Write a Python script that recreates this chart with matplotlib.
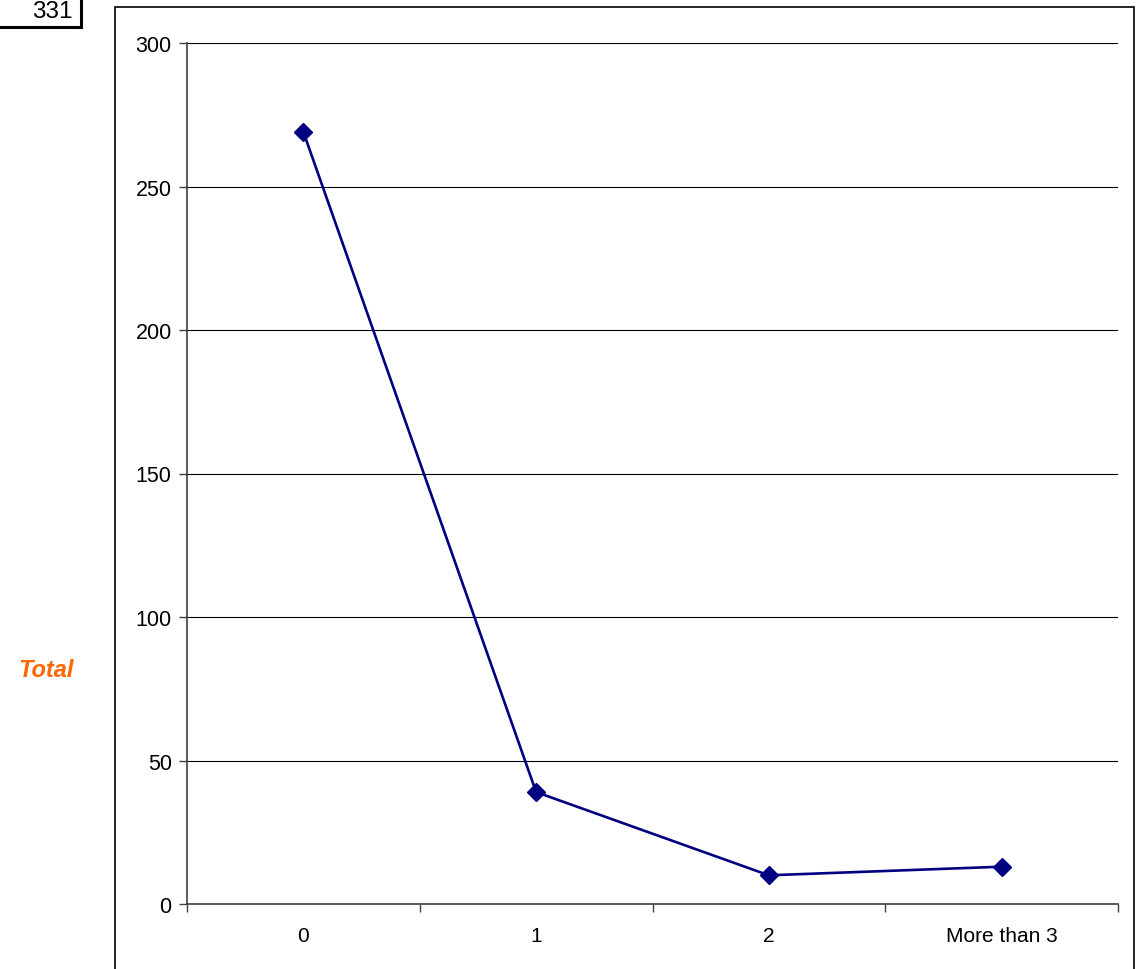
import matplotlib.pyplot as plt
from matplotlib.patches import Rectangle
from matplotlib.lines import Line2D

plt.rcParams['font.family'] = ['Liberation Sans', 'DejaVu Sans']

# Data
categories = ["0", "1", "2", "More than 3"]
totals = [269, 39, 10, 13]
y_ticks = [0, 50, 100, 150, 200, 250, 300]
page_number = "331"
series_label = "Total"

W, H = 1136, 970
fig = plt.figure(figsize=(W / 100, H / 100), dpi=100)

# outer chart frame (runs off the bottom of the page)
fig.add_artist(Rectangle((115 / W, -0.05), (1134 - 115) / W, 1.05 - 8 / H,
                         transform=fig.transFigure, fill=False,
                         edgecolor='black', linewidth=1.2))

# page number box in the corner
fig.text(73 / W, 1 - 12 / H, page_number, ha='right', va='center', fontsize=17.5)
fig.add_artist(Line2D([0, 81 / W], [1 - 28 / H, 1 - 28 / H], transform=fig.transFigure,
                      color='black', linewidth=2.2))
fig.add_artist(Line2D([81 / W, 81 / W], [1.0, 1 - 28 / H], transform=fig.transFigure,
                      color='black', linewidth=2.2))

# series label on the left
fig.text(18 / W, 1 - 671 / H, series_label, ha='left', va='center', fontsize=17,
         fontweight='bold', fontstyle='italic', color='#FF6600')

ax = fig.add_axes([187 / W, 65 / H, (1118 - 187) / W, (905 - 44) / H])
x = [i + 0.5 for i in range(len(categories))]
ax.plot(x, totals, color='#000080', linewidth=1.9, marker='D', markersize=9.5,
        markerfacecolor='#000080', markeredgecolor='#000080', zorder=3)

ax.set_xlim(0, len(categories))
ax.set_ylim(0, 300)
ax.set_yticks(y_ticks)
ax.yaxis.grid(True, color='black', linewidth=0.8)
ax.set_axisbelow(True)

ax.set_xticks(range(len(categories) + 1))
ax.set_xticklabels([])
ax.set_xticks(x, minor=True)
ax.set_xticklabels(categories, minor=True)
ax.tick_params(axis='x', which='major', direction='out', length=6, width=1, color='#404040')
ax.tick_params(axis='x', which='minor', length=0, pad=16, labelsize=15)
ax.tick_params(axis='y', direction='out', length=6, width=1, color='#404040',
               pad=5, labelsize=15.5)

for side in ['top', 'right']:
    ax.spines[side].set_visible(False)
for side in ['left', 'bottom']:
    ax.spines[side].set_color('#404040')
    ax.spines[side].set_linewidth(1.2)

fig.savefig('out.png', dpi=100)
